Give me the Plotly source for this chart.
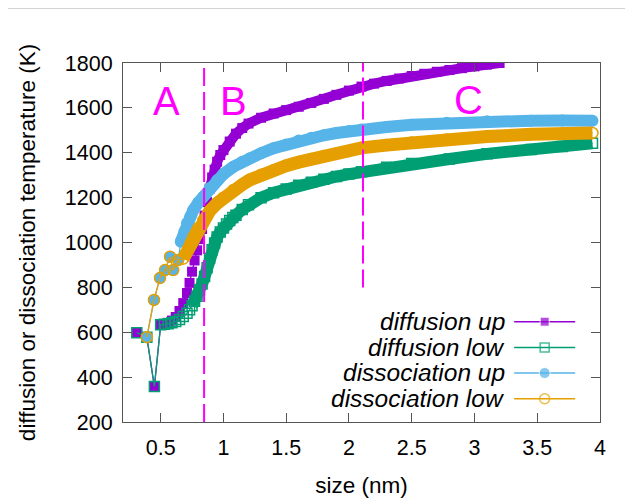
import plotly.graph_objects as go

# ---------------- data ----------------
diff_up_x = [0.31, 0.39, 0.45, 0.50, 0.53, 0.56, 0.59, 0.62, 0.65, 0.68, 0.71, 0.73, 0.75,
             0.77, 0.79, 0.81, 0.83, 0.85, 0.87, 0.89, 0.91, 0.93, 0.95, 0.975, 1.0, 1.05,
             1.1, 1.15, 1.2, 1.3, 1.4, 1.5, 1.6, 1.7, 1.8, 1.9, 2.0, 2.1, 2.2, 2.3, 2.4,
             2.5, 2.6, 2.7, 2.8, 2.9, 3.0, 3.1, 3.2]
diff_up_y = [598, 578, 358, 633, 637, 642, 652, 668, 695, 730, 775, 820, 870,
             920, 965, 1015, 1060, 1120, 1180, 1240, 1290, 1325, 1360, 1390, 1412, 1450,
             1485, 1510, 1530, 1556, 1575, 1590, 1605, 1622, 1640, 1658, 1677, 1695, 1708, 1720, 1731,
             1742, 1752, 1761, 1769, 1777, 1785, 1793, 1800]

diff_low_x = [0.31, 0.39, 0.45, 0.50, 0.53, 0.56, 0.59, 0.62, 0.65, 0.68, 0.71, 0.73, 0.75,
              0.77, 0.79, 0.81, 0.83, 0.85, 0.87, 0.89, 0.91, 0.93, 0.95, 0.975, 1.0, 1.025,
              1.05, 1.075, 1.1, 1.15, 1.2, 1.3, 1.4, 1.5, 1.6,
              1.7, 1.8, 1.9, 2.0, 2.1, 2.3, 2.5, 2.8, 3.1, 3.45, 3.7, 3.94]
diff_low_y = [598, 578, 358, 633, 636, 638, 642, 648, 657, 670, 685, 700, 718,
              738, 760, 788, 815, 848, 888, 930, 968, 998, 1025, 1047, 1065, 1082,
              1098, 1111, 1122, 1147, 1168, 1200, 1222, 1238, 1255,
              1268, 1282, 1294, 1305, 1315, 1335, 1352, 1372, 1395, 1415, 1428, 1442]

diss_up_x = [0.39, 0.447, 0.495, 0.535, 0.575, 0.60, 0.64, 0.66, 0.69, 0.71, 0.735, 0.76,
             0.80, 0.84, 0.89, 0.95, 1.0, 1.08, 1.15, 1.21, 1.3, 1.4, 1.5, 1.6, 1.7, 1.8,
             1.9, 2.0, 2.1, 2.3, 2.5, 2.78, 3.1, 3.45, 3.7, 3.94]
diss_up_y = [578, 744, 842, 877, 937, 877, 922, 1003, 1050, 1087, 1115, 1145,
             1178, 1204, 1243, 1279, 1305, 1338, 1360, 1375, 1398, 1420, 1437, 1455, 1467, 1478,
             1488, 1497, 1504, 1515, 1525, 1534, 1540, 1543, 1544, 1543]

diss_low_x = [0.39, 0.447, 0.495, 0.535, 0.575, 0.60, 0.64, 0.68, 0.70, 0.72, 0.74, 0.76,
              0.78, 0.80, 0.84, 0.89, 0.95, 1.0, 1.08, 1.15, 1.21, 1.3, 1.4, 1.5, 1.6, 1.7,
              1.8, 1.9, 2.0, 2.1, 2.3, 2.5, 2.78, 3.1, 3.45, 3.7, 3.94]
diss_low_y = [578, 744, 842, 877, 937, 877, 922, 928, 950, 975, 1000, 1025,
              1045, 1065, 1100, 1140, 1175, 1200, 1234, 1258, 1279, 1302, 1322, 1342, 1358, 1372,
              1385, 1397, 1408, 1422, 1434, 1446, 1459, 1472, 1482, 1486, 1488]

series_names = ["diffusion up", "diffusion low", "dissociation up", "dissociation low"]
series_colors = ["#9400D3", "#009E73", "#56B4E9", "#E69F00"]
series_symbols = ["square", "square-open", "circle", "circle-open"]
band_start = [0.88, 0.74, 0.66, 0.68]   # where the points become a dense band

region_labels = ["A", "B", "C"]
region_label_x = [0.548, 1.08, 2.95]
region_label_y = [1632, 1632, 1635]

boundary_x = [0.846, 2.112]
boundary_y_low = [200, 800]

x_ticks = [0.5, 1, 1.5, 2, 2.5, 3, 3.5, 4]
x_tick_text = ["0.5", "1", "1.5", "2", "2.5", "3", "3.5", "4"]
y_ticks = [200, 400, 600, 800, 1000, 1200, 1400, 1600, 1800]

FONT = "Liberation Sans, Arial, sans-serif"

data_x = [diff_up_x, diff_low_x, diss_up_x, diss_low_x]
data_y = [diff_up_y, diff_low_y, diss_up_y, diss_low_y]
msize = [10, 10, 12, 11]
band_w = [10, 12, 12, 13]

fig = go.Figure()

for i in range(4):
    xs, ys, c = data_x[i], data_y[i], series_colors[i]
    bx = [x for x in xs if x >= band_start[i]]
    by = [y for x, y in zip(xs, ys) if x >= band_start[i]]
    # dense band of overlapping points
    fig.add_trace(go.Scatter(x=bx, y=by, mode="lines", showlegend=False,
                             line=dict(color=c, width=band_w[i]), hoverinfo="skip"))
    # points + thin connecting line
    mk = dict(symbol=series_symbols[i], color=c, size=msize[i])
    if "open" in series_symbols[i]:
        mk["line"] = dict(width=1.5, color=c)
    fig.add_trace(go.Scatter(x=xs, y=ys, mode="lines+markers", name=series_names[i],
                             showlegend=False, line=dict(color=c, width=1.3), marker=mk))

# manual gnuplot-style legend (text right, sample on the right), on overlay axes
leg_rows = [0.2794, 0.2078, 0.1365, 0.0649]
for i in range(4):
    c = series_colors[i]
    mk = dict(symbol=series_symbols[i], color=c, size=[0, msize[i] - 1, 0])
    if "open" in series_symbols[i]:
        mk["line"] = dict(width=1.5, color=c)
    fig.add_trace(go.Scatter(x=[0.82, 0.884, 0.948], y=[leg_rows[i]] * 3,
                             xaxis="x2", yaxis="y2", mode="lines+markers",
                             showlegend=False, hoverinfo="skip",
                             line=dict(color=c, width=1.5), marker=mk))

annotations = []
for i in range(4):
    annotations.append(dict(x=0.805, y=leg_rows[i], xref="paper", yref="paper",
                            text="<i>%s</i>" % series_names[i], showarrow=False,
                            xanchor="right", yanchor="middle",
                            font=dict(family=FONT, size=24.5, color="black")))
for t, x, y in zip(region_labels, region_label_x, region_label_y):
    annotations.append(dict(x=x, y=y, xref="x", yref="y", text=t, showarrow=False,
                            xanchor="center", yanchor="middle",
                            font=dict(family=FONT, size=40, color="#FF00FF")))

shapes = []
for bx, byl in zip(boundary_x, boundary_y_low):
    shapes.append(dict(type="line", xref="x", yref="y", x0=bx, x1=bx, y0=byl, y1=1800,
                       line=dict(color="#FF00FF", width=2, dash="18px,6px"), layer="above"))
# thin grey page rule at the top
shapes.append(dict(type="line", xref="paper", yref="paper", x0=-0.26, x1=1.1,
                   y0=1.153, y1=1.153, line=dict(color="#c4c4c4", width=1.5)))

axis_common = dict(showgrid=False, zeroline=False, showline=True, linecolor="#555555",
                   linewidth=1, mirror="allticks", ticks="inside", ticklen=9,
                   tickcolor="#555555", tickwidth=1,
                   tickfont=dict(family=FONT, size=21.5, color="black"))

fig.update_layout(
    width=633, height=501,
    margin=dict(l=115, r=41, t=55, b=87),
    paper_bgcolor="white", plot_bgcolor="white",
    showlegend=False,
    xaxis=dict(range=[0.2, 4], tickvals=x_ticks, ticktext=x_tick_text,
               title=dict(text="size (nm)", font=dict(family=FONT, size=22.5, color="black"),
                          standoff=18),
               ticklabelstandoff=6, **axis_common),
    yaxis=dict(range=[200, 1800], tickvals=y_ticks,
               title=dict(text="diffusion or dissociation temperature (K)",
                          font=dict(family=FONT, size=22.5, color="black"), standoff=22),
               ticklabelstandoff=5, **axis_common),
    xaxis2=dict(range=[0, 1], overlaying="x", visible=False, fixedrange=True),
    yaxis2=dict(range=[0, 1], overlaying="y", visible=False, fixedrange=True),
    annotations=annotations,
    shapes=shapes,
)

fig.write_html("out.html")
